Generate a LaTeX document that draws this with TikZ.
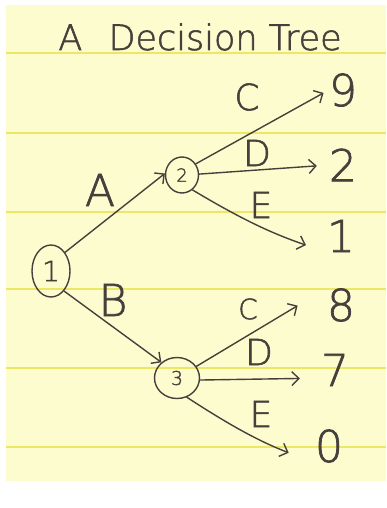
\documentclass[tikz,border=0pt]{standalone}
\usepackage{fontspec}
\newfontfamily\hand[RawFeature={embolden=1.6}]{DejaVu Sans ExtraLight}
\usetikzlibrary{arrows.meta,shapes.geometric,calc}
\definecolor{paper}{HTML}{FDFCCF}
\definecolor{rulecol}{HTML}{ECE764}
\definecolor{ink}{HTML}{46403C}
\begin{document}
\begin{tikzpicture}[x=1pt,y=-1pt,
  state/.style={ellipse, draw=ink, line width=1.4pt, inner sep=0pt, text=ink},
  leaf/.style={inner sep=0pt, text=ink, font=\hand\fontsize{44}{44}\selectfont},
  lab/.style={inner sep=0pt, text=ink, font=\hand\fontsize{36}{36}\selectfont},
  arr/.style={draw=ink, line width=1.4pt, line cap=round, -{Straight Barb[length=7pt,width=14pt]}}
]
\useasboundingbox (0,0) rectangle (386,508);
\fill[white] (0,0) rectangle (386,508);
\fill[paper] (6,5) rectangle (386,481);
\foreach \yy in {53,133,212,289,368,447} \draw[rulecol, line width=1.5pt] (6,\yy) -- (386,\yy);

\node[lab, anchor=base, font=\hand\fontsize{35}{35}\selectfont] (title) at (200,50) {A\hspace{0.75em}Decision Tree};

\node[state, minimum width=38pt, minimum height=52pt, font=\hand\fontsize{28}{28}\selectfont] (n1) at (51,271) {1};
\node[state, minimum width=33pt, minimum height=36pt, font=\hand\fontsize{18}{18}\selectfont] (n2) at (182,175) {2};
\node[state, minimum width=45pt, minimum height=41pt, font=\hand\fontsize{19}{19}\selectfont] (n3) at (177,378) {3};

\node[leaf] (l9) at (343,90) {9};
\node[leaf] (l2) at (343,165) {2};
\node[leaf] (l1) at (341,236) {1};
\node[leaf] (l8) at (341,305) {8};
\node[leaf] (l7) at (335,370) {7};
\node[leaf] (l0) at (329,446) {0};

\node[lab, font=\hand\fontsize{44}{44}\selectfont] (la) at (100,190) {A};
\node[lab, font=\hand\fontsize{44}{44}\selectfont] (lb) at (113,300) {B};
\node[lab] (lc1) at (247,97) {C};
\node[lab] (ld1) at (257,153) {D};
\node[lab] (le1) at (261,205) {E};
\node[lab, font=\hand\fontsize{28}{28}\selectfont] (lc2) at (248,309) {C};
\node[lab] (ld2) at (259,352) {D};
\node[lab] (le2) at (261,414) {E};

\draw[arr] (n1.53) -- (n2.175);
\draw[arr] (n1.-57) -- (n3.135);
\draw[arr, shorten >=6pt] (n2.39) -- (l9.west);
\draw[arr, shorten >=12pt] (n2.3) -- (l2.west);
\draw[arr, shorten >=22pt] (n2.-55) to[bend right=6] (l1.south west);
\draw[arr, shorten >=34pt] (n3.31) -- (l8.north west);
\draw[arr, shorten >=21pt] (n3.-5) -- ($(l7.west)!0.5!(l7.south west)$);
\draw[arr, shorten >=28pt] (n3.-63) to[bend right=6] (l0.south west);
\end{tikzpicture}
\end{document}
